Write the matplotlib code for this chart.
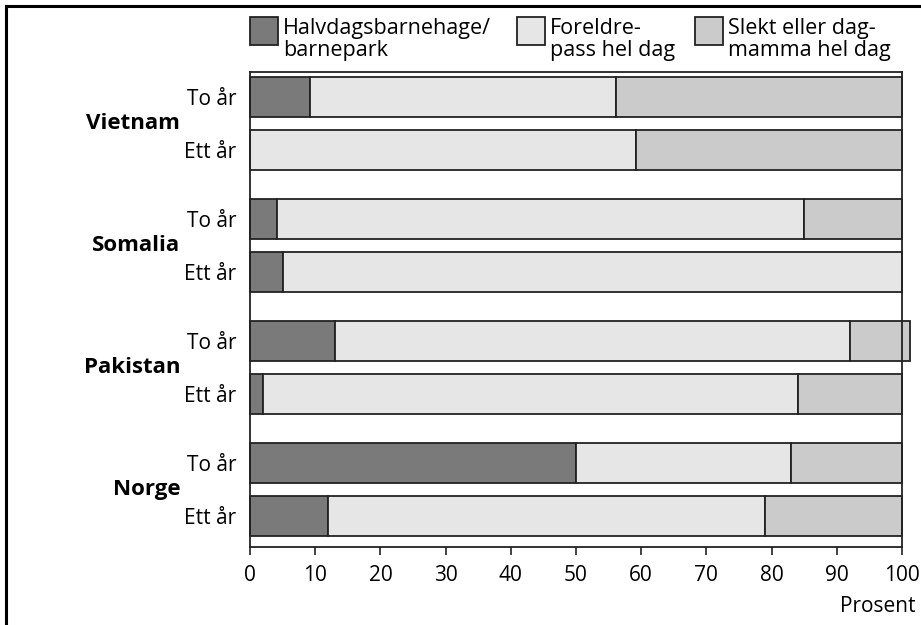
import matplotlib.pyplot as plt
from matplotlib.patches import Rectangle
from matplotlib.lines import Line2D
import matplotlib.transforms as mtransforms

plt.rcParams['font.family'] = ['Open Sans', 'DejaVu Sans']

countries = ['Norge', 'Pakistan', 'Somalia', 'Vietnam']
ages = ['Ett år', 'To år']
series = ['Halvdagsbarnehage/\nbarnepark', 'Foreldre-\npass hel dag', 'Slekt eller dag-\nmamma hel dag']

# per country: [Ett år, To år]
halvdag = {'Norge': [12, 50], 'Pakistan': [2, 13], 'Somalia': [5, 4.2], 'Vietnam': [0, 9.2]}
foreldre = {'Norge': [67, 33], 'Pakistan': [82, 79], 'Somalia': [95, 80.8], 'Vietnam': [59.2, 46.9]}
slekt = {'Norge': [21, 17], 'Pakistan': [16, 9.2], 'Somalia': [0, 15], 'Vietnam': [40.8, 43.9]}

colors = ['#7a7a7a', '#e6e6e6', '#cbcbcb']
edge = '#222222'

fig = plt.figure(figsize=(9.21, 6.25), dpi=100)
ax = fig.add_axes([250 / 921, 1 - 547 / 625, 652 / 921, 475 / 625])

group_step = 122 / 53
pos = []
labels = []
for g, c in enumerate(countries):
    for a, age in enumerate(ages):
        y = g * group_step + a
        pos.append(y)
        labels.append(age)
        left = 0
        for vals, col in zip([halvdag, foreldre, slekt], colors):
            v = vals[c][a]
            if v > 0:
                ax.barh(y, v, left=left, height=40 / 53, color=col,
                        edgecolor=edge, linewidth=1.3, clip_on=False)
            left += v
    trans = mtransforms.blended_transform_factory(ax.transAxes, ax.transData)
    ax.text(-0.107, g * group_step + 0.5, c, transform=trans, ha='right',
            va='center', fontsize=16, fontweight='bold')

ax.set_xlim(0, 100)
ax.set_ylim(-0.585, 3 * group_step + 1 + 0.47)
ax.set_xticks(range(0, 101, 10))
ax.set_yticks(pos)
ax.set_yticklabels(labels)
ax.tick_params(axis='y', length=0, pad=10, labelsize=15)
ax.tick_params(axis='x', length=6, width=1.2, labelsize=15, pad=7, color=edge)
for s in ax.spines.values():
    s.set_color(edge)
    s.set_linewidth(1.3)

fig.text(915 / 921, 1 - 606 / 625, 'Prosent', ha='right', va='center', fontsize=15)

# legend
leg_x = [250, 517, 695]
for x, lab, col in zip(leg_x, series, colors):
    fig.add_artist(Rectangle((x / 921, 1 - 45 / 625), 28 / 921, 28 / 625,
                             transform=fig.transFigure, facecolor=col,
                             edgecolor=edge, linewidth=1.3))
    fig.text((x + 33) / 921, 1 - 18 / 625, lab, ha='left', va='top',
             fontsize=15.5, linespacing=1.08)

# frame lines (top and left)
fig.add_artist(Line2D([6 / 921, 1], [1 - 6 / 625, 1 - 6 / 625],
                      transform=fig.transFigure, color='black', linewidth=2.2))
fig.add_artist(Line2D([6 / 921, 6 / 921], [0, 1 - 6 / 625],
                      transform=fig.transFigure, color='black', linewidth=2.2))

fig.savefig('out.png', dpi=100)
